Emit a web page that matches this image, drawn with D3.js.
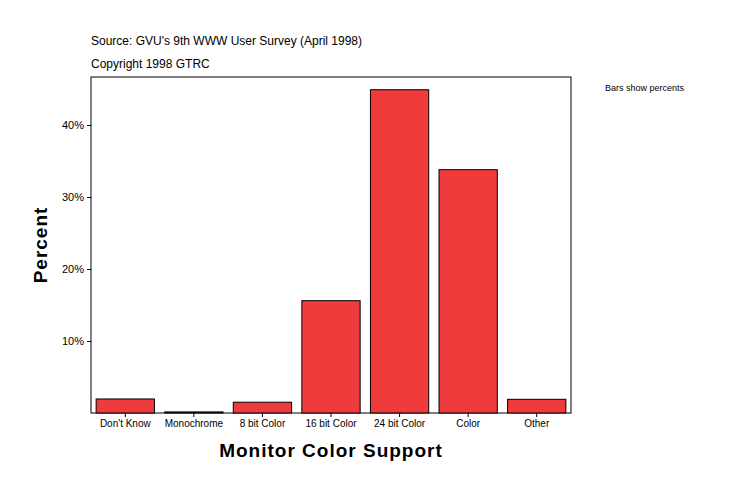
<!DOCTYPE html>
<html><head><meta charset="utf-8">
<script src="https://cdn.jsdelivr.net/npm/d3@7"></script>
<style>body{margin:0;background:#fff}svg{font-family:Arial,"Liberation Sans",sans-serif}</style>
</head><body>
<svg id="c" width="734" height="496"></svg>
<script>
const categories = ["Don't Know","Monochrome","8 bit Color","16 bit Color","24 bit Color","Color","Other"];
const values = [1.95,0.15,1.5,15.6,44.9,33.8,1.9];
const tickValues = [10,20,30,40];

const svg = d3.select("#c");
const L=91,R=571,T=77,B=413;
const x = d3.scaleBand().domain(categories).range([L,R]).paddingInner(0.15).paddingOuter(0.075);
const y = d3.scaleLinear().domain([0,46.67]).range([B,T]);

svg.append("rect").attr("x",L).attr("y",T).attr("width",R-L).attr("height",B-T)
  .attr("fill","#fff").attr("stroke","#000").attr("stroke-width",1);

svg.selectAll(".bar").data(values).enter().append("rect")
  .attr("x",(d,i)=>x(categories[i])).attr("width",x.bandwidth())
  .attr("y",d=>y(d)).attr("height",d=>B-y(d))
  .attr("fill","#ef3b3b").attr("stroke","#000").attr("stroke-width",1);

const ya = svg.append("g").attr("transform",`translate(${L},0)`)
  .call(d3.axisLeft(y).tickValues(tickValues).tickFormat(d=>d+"%").tickSize(4));
ya.select(".domain").remove();
ya.selectAll("text").attr("font-size",11).attr("fill","#000");

const xa = svg.append("g").attr("transform",`translate(0,${B})`)
  .call(d3.axisBottom(x).tickSize(4));
xa.select(".domain").remove();
xa.selectAll("text").attr("font-size",10).attr("fill","#000");

svg.append("text").attr("x",91).attr("y",45).attr("font-size",12).text("Source: GVU's 9th WWW User Survey (April 1998)");
svg.append("text").attr("x",91).attr("y",68).attr("font-size",12).text("Copyright 1998 GTRC");
svg.append("text").attr("x",605).attr("y",91).attr("font-size",9).text("Bars show percents");
svg.append("text").attr("x",331).attr("y",457).attr("text-anchor","middle").attr("font-size",19)
  .attr("font-weight","bold").attr("letter-spacing",1).text("Monitor Color Support");
svg.append("text").attr("transform","translate(47,245) rotate(-90)").attr("text-anchor","middle")
  .attr("font-size",19).attr("font-weight","bold").attr("letter-spacing",1).text("Percent");
</script>
</body></html>
